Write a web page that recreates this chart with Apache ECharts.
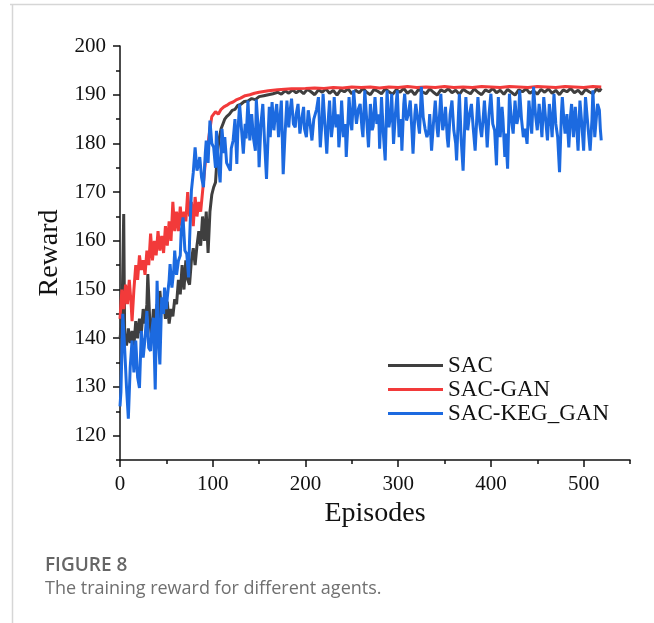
<!DOCTYPE html>
<html>
<head>
<meta charset="utf-8">
<script src="https://cdn.jsdelivr.net/npm/echarts@6/dist/echarts.min.js"></script>
<style>
html,body{margin:0;padding:0;background:#fff;}
#chart{width:654px;height:623px;}
</style>
</head>
<body>
<div id="chart"></div>
<script>
const seriesNames = ['SAC', 'SAC-GAN', 'SAC-KEG_GAN'];
const xTickLabels = [0, 100, 200, 300, 400, 500];
const yTickLabels = [120, 130, 140, 150, 160, 170, 180, 190, 200];

// [episode, reward]
const sacData = [[0,140],[2,143],[4,165.5],[5,141],[7,138.5],[9,142],[11,139],[13,141.5],[15,138.5],[17,143.5],[19,140],[21,144],[23,141],[25,146],[27,143],[29,147],[30,153.2],[32,144],[34,140],[36,146],[38,142],[40,147],[42,143],[43,149.7],[45,145],[47,148],[49,144],[51,147.5],[53,143],[55,146],[57,144.5],[59,148],[61,147],[63,152],[65,149],[67,155],[69,150],[71,156],[73,152],[75,151],[77,156],[79,158.5],[81,155],[83,159],[85,162],[87,159],[89,165],[91,160],[93,166],[95,157.5],[97,166],[99,169.5],[101,171],[103,172],[105,178],[107,181],[109,183],[111,184],[113,185],[115,185.5],[118,186],[121,186.8],[124,187],[127,187.8],[130,188],[134,188.6],[138,188.7],[142,189.2],[146,189],[150,189.6],[155,189.8],[160,190],[165,190.2],[170,190.5],[174,190.1],[178,190.8],[182,190.3],[186,191],[190,190.4],[194,190.9],[198,190.2],[202,191.1],[206,190.6],[210,190],[214,191],[218,190.5],[222,191.2],[226,190.3],[230,190.9],[234,189.9],[238,191],[242,190.6],[246,191.2],[250,190.2],[254,190.9],[258,190.4],[262,191.3],[266,190.5],[270,190],[274,191.1],[278,190.7],[282,190.2],[286,191.2],[290,190.6],[294,190.1],[298,191],[302,190.5],[306,191.3],[310,190.3],[314,190.9],[318,190],[322,191.1],[326,190.6],[330,190.2],[334,191.2],[338,190.5],[342,189.9],[346,191],[350,190.6],[354,191.2],[358,190.4],[362,190.9],[366,190.1],[370,191.1],[374,190.6],[378,190.2],[382,191.2],[386,190.5],[390,190],[394,191],[398,190.6],[402,191.3],[406,190.4],[410,190.9],[414,190.1],[418,191.1],[422,190.5],[426,189.9],[430,191],[434,190.6],[438,191.2],[442,190.3],[446,190.8],[450,190.1],[454,191.1],[458,190.5],[462,191.2],[466,190.3],[470,190.9],[474,190],[478,191],[482,190.6],[486,191.3],[490,190.4],[494,190.9],[498,190.1],[502,191.1],[506,190.6],[510,190.2],[514,191.2],[517,190.7],[519,191.3]];

const sacGanData = [[0,144],[2,150],[4,146],[6,151],[8,147],[10,152],[12,147],[13,143.5],[15,150],[17,155],[19,152],[21,157],[23,154],[25,156],[27,153],[29,158],[31,155],[33,161.5],[35,156],[37,160],[39,157],[41,162],[43,158],[45,161],[47,157.5],[49,163],[51,159],[53,164],[55,160],[57,168],[59,162],[61,166],[63,162],[65,167],[67,163],[69,166],[71,164],[73,170],[75,165],[77,168],[79,163],[81,169],[83,165],[85,168],[87,166],[89,170],[91,174],[93,178],[95,180],[97,183],[99,185.5],[101,186],[103,186.5],[106,186],[109,187],[112,187.5],[115,187.8],[118,188.2],[122,188.5],[126,189],[130,189.3],[135,189.8],[140,190],[145,190.3],[150,190.5],[160,190.8],[170,191],[185,191.2],[200,191.3],[210,191.4],[220,191.3],[230,191.5],[240,191.4],[250,191.6],[260,191.5],[270,191.6],[280,191.4],[290,191.6],[300,191.5],[310,191.7],[320,191.5],[330,191.6],[340,191.5],[350,191.7],[360,191.5],[370,191.6],[380,191.5],[390,191.7],[400,191.6],[410,191.5],[420,191.7],[430,191.6],[440,191.5],[450,191.7],[460,191.6],[470,191.5],[480,191.7],[490,191.6],[500,191.5],[510,191.7],[519,191.6]];

const sacKegGanData = [[0,126],[1,129],[3,145],[5,138],[7,130],[9,123.5],[11,134],[13,139.5],[15,133],[17,139.5],[19,132],[21,129.8],[23,141.5],[25,136],[27,140],[29,145.6],[31,138],[33,137.4],[34,141],[36,144.2],[38,129.5],[40,151.8],[42,138],[43,134.6],[45,148.4],[47,145],[48,150.4],[50,146],[51,148.4],[53,152],[54,155.2],[56,150.4],[58,154],[59,158],[61,153],[63,155.9],[65,157],[66,162],[68,164.8],[70,158],[72,157.3],[74,152.5],[75,160],[77,170.3],[79,174],[81,179.2],[83,174.4],[85,176],[86,177.2],[88,173],[90,171],[92,178],[93,180.6],[95,176],[97,184.7],[99,180],[101,179.2],[103,175],[104,182.6],[106,176],[108,172],[110,183],[112,178],[113,181.3],[115,176],[117,175.8],[119,174.4],[120,179],[122,180.6],[124,185],[126,175.8],[127,182],[129,188],[131,183],[133,177.9],[135,184],[136,181],[138,188.8],[140,180.6],[142,186],[144,181],[146,178.5],[147,189],[149,183],[150,175.1],[152,184],[154,188.1],[156,180],[158,172.7],[160,183],[161,187.5],[162,181.3],[164,188.5],[166,182.7],[167,185],[169,188.1],[171,181.3],[172,184],[174,188.8],[176,173.7],[178,182],[180,188.8],[182,183.3],[183,186],[185,189.2],[187,184],[189,183.3],[190,186],[192,188.1],[194,182],[196,185],[198,187.5],[199,183],[201,181.3],[203,186.8],[205,184],[207,180.6],[209,185],[210,184.7],[212,187],[214,189.5],[216,179.2],[218,185],[219,190.2],[221,184],[223,177.9],[225,186],[226,188.8],[228,181.3],[230,185],[231,189.5],[233,183.3],[235,186],[236,179.2],[238,184],[239,188.8],[241,181.3],[243,184],[244,177.2],[246,185],[247,189.5],[249,184],[250,182.7],[252,190.9],[254,186],[255,184],[257,187],[259,188.1],[261,183],[262,181.3],[264,190.9],[266,185],[268,179.2],[270,188.1],[272,182.7],[273,183.5],[275,189.5],[277,184],[279,186],[280,178.9],[282,189.5],[284,182],[286,176.5],[288,190.9],[290,183.3],[292,186],[293,190.2],[295,179.9],[297,186],[299,190.9],[301,181.3],[303,185],[304,178.5],[306,188],[307,190.2],[309,184.7],[311,186],[313,188.8],[315,182],[316,177.9],[318,186],[319,188.1],[321,185],[323,182],[325,191.6],[327,185.4],[329,183],[331,181.3],[333,182.7],[334,186],[336,178.5],[338,184],[340,188.8],[342,183],[343,181.3],[345,187],[346,190.2],[348,182.7],[350,185],[351,187.5],[353,181],[354,179.2],[356,186],[358,188.8],[360,182.7],[362,180],[363,176.5],[365,186],[366,190.2],[368,180.6],[370,174.4],[372,185],[373,189.5],[375,182.7],[377,186],[379,188.1],[381,183],[383,178.5],[385,186],[386,189.5],[388,184],[390,181.3],[392,186],[393,188.8],[395,183],[396,179.2],[398,186],[400,190.2],[402,184],[404,182.7],[406,175.5],[408,189.5],[410,181.3],[412,187.5],[413,185],[415,177.2],[416,182],[418,174.8],[420,190.2],[422,185],[424,182],[426,188.8],[428,184],[430,186],[431,190.9],[433,185],[435,181.3],[437,183],[439,179.9],[441,188.8],[443,184],[444,182],[446,191.6],[448,186],[450,182.7],[452,188.1],[454,184],[455,181.3],[457,189.5],[459,185],[461,180.6],[463,188.1],[465,184],[466,181.3],[468,190.2],[470,184],[472,181.3],[474,174.1],[476,186],[477,189.5],[479,184],[480,182],[482,186],[484,179.2],[486,186],[487,188.1],[489,181.3],[491,187.5],[492,185],[494,178.5],[496,188.8],[498,184],[500,178.5],[502,189.5],[504,185],[505,182.7],[507,178.5],[509,185],[510,190.9],[512,181.3],[514,186],[515,188.1],[517,186.8],[518,183],[519,180.6]];

const colors = ['#3f3f3f', '#f23a3a', '#1c6ae0'];
const serif = '"Liberation Serif", "Times New Roman", serif';
const sans = '"Open Sans", "Noto Sans", sans-serif';

const chart = echarts.init(document.getElementById('chart'), null, {renderer: 'canvas'});
const axisLineStyle = {color: '#111', width: 1.5};

chart.setOption({
  animation: false,
  backgroundColor: '#fff',
  grid: {left: 120, right: 24, top: 46, bottom: 163},
  legend: {
    orient: 'vertical',
    left: 383,
    top: 349,
    icon: 'rect',
    itemWidth: 55,
    itemHeight: 3,
    itemGap: 1,
    data: seriesNames,
    textStyle: {fontFamily: serif, fontSize: 23, color: '#111'}
  },
  xAxis: [{
    type: 'value', min: 0, max: 550, interval: 50, position: 'bottom',
    name: 'Episodes', nameLocation: 'middle', nameGap: 39,
    nameTextStyle: {fontFamily: serif, fontSize: 28, color: '#111'},
    axisLine: {show: true, lineStyle: axisLineStyle},
    axisTick: {show: true, inside: false, length: 4, lineStyle: axisLineStyle},
    axisLabel: {fontFamily: serif, fontSize: 21, color: '#111', margin: 14,
      formatter: v => (xTickLabels.indexOf(v) >= 0 ? String(v) : '')},
    splitLine: {show: false}
  }, {
    type: 'value', min: 0, max: 550, interval: 50, position: 'bottom',
    axisLine: {show: false},
    axisTick: {show: true, inside: false, length: 7, lineStyle: axisLineStyle, customValues: xTickLabels},
    axisLabel: {show: false},
    splitLine: {show: false}
  }],
  yAxis: [{
    type: 'value', min: 115, max: 200, interval: 5, position: 'left',
    name: 'Reward', nameLocation: 'middle', nameGap: 53, nameRotate: 90,
    nameTextStyle: {fontFamily: serif, fontSize: 28, color: '#111'},
    axisLine: {show: true, lineStyle: axisLineStyle},
    axisTick: {show: true, inside: false, length: 4, lineStyle: axisLineStyle},
    axisLabel: {fontFamily: serif, fontSize: 21, color: '#111', margin: 14,
      formatter: v => (yTickLabels.indexOf(v) >= 0 ? String(v) : '')},
    splitLine: {show: false}
  }, {
    type: 'value', min: 115, max: 200, interval: 5, position: 'left',
    axisLine: {show: false},
    axisTick: {show: true, inside: false, length: 7, lineStyle: axisLineStyle, customValues: yTickLabels},
    axisLabel: {show: false},
    splitLine: {show: false}
  }],
  series: [
    {name: seriesNames[0], type: 'line', data: sacData, showSymbol: false, color: colors[0], lineStyle: {width: 3, color: colors[0]}},
    {name: seriesNames[1], type: 'line', data: sacGanData, showSymbol: false, color: colors[1], lineStyle: {width: 3, color: colors[1]}},
    {name: seriesNames[2], type: 'line', data: sacKegGanData, showSymbol: false, color: colors[2], lineStyle: {width: 3, color: colors[2]}}
  ],
  graphic: [
    {type: 'line', shape: {x1: 10, y1: 4.5, x2: 654, y2: 4.5}, style: {stroke: '#d6d6d6', lineWidth: 1.5}},
    {type: 'line', shape: {x1: 12.5, y1: 4, x2: 12.5, y2: 623}, style: {stroke: '#d6d6d6', lineWidth: 1.5}},
    {type: 'text', left: 45, top: 556, style: {text: 'FIGURE 8', fontFamily: sans, fontSize: 19, fontWeight: 600, fill: '#666'}},
    {type: 'text', left: 45, top: 580, style: {text: 'The training reward for different agents.', fontFamily: sans, fontSize: 18, fill: '#707070'}}
  ]
});
</script>
</body>
</html>
